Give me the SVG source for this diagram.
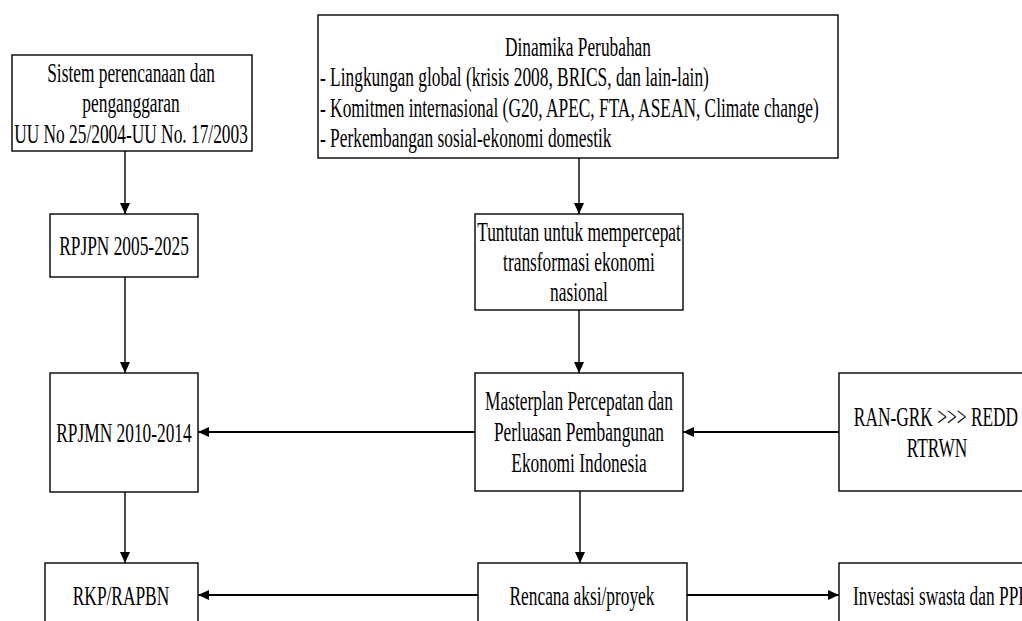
<svg xmlns="http://www.w3.org/2000/svg" width="1022" height="621" viewBox="0 0 1022 621">
<style>
  .box { fill: #ffffff; stroke: #000000; stroke-width: 1.4; }
  .t { font-family: 'Liberation Serif', 'DejaVu Serif', serif; font-size: 28px; fill: #000000; }
  .c { text-anchor: middle; }
  .v { stroke: #000000; stroke-width: 1.4; fill: none; }
  .h { stroke: #000000; stroke-width: 2.2; fill: none; }
</style>
<defs>
  <marker id="arr" viewBox="0 0 11 10" refX="11" refY="5" markerWidth="11" markerHeight="10" markerUnits="userSpaceOnUse" orient="auto">
    <path d="M0,0 L11,5 L0,10 z" fill="#000000"/>
  </marker>
</defs>
<rect width="1022" height="621" fill="#ffffff"/>

<g id="connectors">
  <line class="v" x1="125" y1="151" x2="125" y2="214" marker-end="url(#arr)"/>
  <line class="v" x1="125" y1="277" x2="125" y2="373" marker-end="url(#arr)"/>
  <line class="v" x1="125" y1="492" x2="125" y2="563" marker-end="url(#arr)"/>
  <line class="v" x1="579" y1="158" x2="579" y2="214" marker-end="url(#arr)"/>
  <line class="v" x1="579" y1="310" x2="579" y2="373" marker-end="url(#arr)"/>
  <line class="v" x1="580" y1="491" x2="580" y2="563" marker-end="url(#arr)"/>
  <line class="h" x1="475" y1="432" x2="198" y2="432" marker-end="url(#arr)"/>
  <line class="h" x1="839" y1="432" x2="683" y2="432" marker-end="url(#arr)"/>
  <line class="h" x1="478" y1="595" x2="198" y2="595" marker-end="url(#arr)"/>
  <line class="h" x1="687" y1="595" x2="839" y2="595" marker-end="url(#arr)"/>
</g>

<g id="sistem">
  <rect class="box" x="12" y="55" width="240" height="96"/>
  <text class="t c" transform="translate(131,0) scale(0.62,1)" x="0" y="82">Sistem perencanaan dan</text>
  <text class="t c" transform="translate(131,0) scale(0.62,1)" x="0" y="112">penganggaran</text>
  <text class="t c" transform="translate(131,0) scale(0.62,1)" x="0" y="143">UU No 25/2004-UU No. 17/2003</text>
</g>

<g id="dinamika">
  <rect class="box" x="318" y="15" width="520" height="143"/>
  <text class="t c" transform="translate(578,0) scale(0.62,1)" x="0" y="56">Dinamika Perubahan</text>
  <text class="t" transform="translate(320,0) scale(0.62,1)" x="0" y="86">- Lingkungan global (krisis 2008, BRICS, dan lain-lain)</text>
  <text class="t" transform="translate(320,0) scale(0.62,1)" x="0" y="117">- Komitmen internasional (G20, APEC, FTA, ASEAN, Climate change)</text>
  <text class="t" transform="translate(320,0) scale(0.62,1)" x="0" y="147">- Perkembangan sosial-ekonomi domestik</text>
</g>

<g id="rpjpn">
  <rect class="box" x="50" y="214" width="148" height="63"/>
  <text class="t c" transform="translate(124,0) scale(0.62,1)" x="0" y="255">RPJPN 2005-2025</text>
</g>

<g id="tuntutan">
  <rect class="box" x="475" y="214" width="208" height="96"/>
  <text class="t c" transform="translate(579,0) scale(0.62,1)" x="0" y="241">Tuntutan untuk mempercepat</text>
  <text class="t c" transform="translate(579,0) scale(0.62,1)" x="0" y="271">transformasi ekonomi</text>
  <text class="t c" transform="translate(579,0) scale(0.62,1)" x="0" y="301">nasional</text>
</g>

<g id="rpjmn">
  <rect class="box" x="50" y="373" width="148" height="119"/>
  <text class="t c" transform="translate(124,0) scale(0.62,1)" x="0" y="442">RPJMN 2010-2014</text>
</g>

<g id="masterplan">
  <rect class="box" x="475" y="373" width="208" height="118"/>
  <text class="t c" transform="translate(579,0) scale(0.62,1)" x="0" y="410">Masterplan Percepatan dan</text>
  <text class="t c" transform="translate(579,0) scale(0.62,1)" x="0" y="441">Perluasan Pembangunan</text>
  <text class="t c" transform="translate(579,0) scale(0.62,1)" x="0" y="472">Ekonomi Indonesia</text>
</g>

<g id="ran">
  <rect class="box" x="839" y="373" width="200" height="118"/>
  <text class="t c" transform="translate(936,0) scale(0.62,1)" x="0" y="426">RAN-GRK &gt;&gt;&gt; REDD</text>
  <text class="t c" transform="translate(937,0) scale(0.62,1)" x="0" y="457">RTRWN</text>
</g>

<g id="rkp">
  <rect class="box" x="45" y="563" width="153" height="80"/>
  <text class="t c" transform="translate(121,0) scale(0.62,1)" x="0" y="605">RKP/RAPBN</text>
</g>

<g id="rencana">
  <rect class="box" x="478" y="563" width="209" height="80"/>
  <text class="t c" transform="translate(582,0) scale(0.62,1)" x="0" y="605">Rencana aksi/proyek</text>
</g>

<g id="investasi">
  <rect class="box" x="839" y="563" width="200" height="80"/>
  <text class="t" transform="translate(853,0) scale(0.62,1)" x="0" y="605">Investasi swasta dan PPP</text>
</g>
</svg>
